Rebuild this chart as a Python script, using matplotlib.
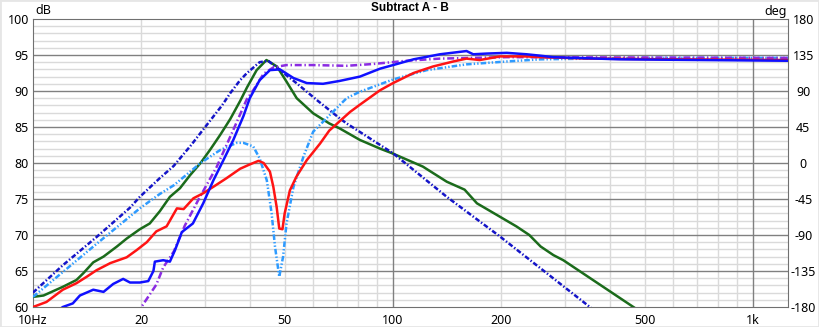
import numpy as np
import matplotlib
matplotlib.use('Agg')
import matplotlib.pyplot as plt
from matplotlib.patches import Rectangle

# ---------------------------------------------------------------------------
# Data (frequency in Hz, level in dB)
# ---------------------------------------------------------------------------
green_f = [10.0, 10.7, 12.1, 13.2, 13.8, 14.7, 15.7, 17.1, 18.2, 19.8, 21.1, 22.5,
           24.0, 25.6, 27.3, 29.2, 31.0, 33.1, 35.3, 37.6, 39.3, 41.8, 44.5, 47.6,
           50.6, 54.0, 60.0, 66.5, 71.1, 80.9, 92, 100, 121, 141, 158, 171, 194,
           220, 239, 257, 279, 297, 465, 600]
green_db = [61.4, 61.6, 62.8, 63.75, 64.7, 66.2, 67.0, 68.4, 69.5, 70.8, 71.6, 73.3,
            75.3, 76.5, 78.3, 80.0, 81.8, 83.9, 86.1, 88.6, 90.5, 92.9, 94.3, 93.4,
            91.3, 89.0, 86.9, 85.5, 84.8, 83.2, 82.0, 81.3, 79.5, 77.4, 76.3, 74.4, 72.8,
            71.2, 70.0, 68.4, 67.2, 66.5, 60.0, 56.4]

red_f = [10.0, 10.9, 12.1, 13.2, 14.1, 15.0, 16.4, 18.2, 19.4, 20.7, 22.0, 23.5,
         25.1, 26.2, 27.9, 29.7, 31.7, 34.5, 37.6, 40.0, 42.3, 43.7, 45.5, 46.5,
         47.5, 48.3, 49.3, 50.0, 51.7, 53.9, 57.6, 62.7, 66.5, 76.0, 80.9, 92,
         100, 114, 129, 147, 160, 174, 198, 235, 257, 350, 600, 1250]
red_db = [60.0, 60.7, 62.4, 63.3, 64.2, 65.1, 66.1, 66.9, 67.9, 69.0, 70.5, 71.2,
          73.7, 73.6, 75.1, 75.8, 76.7, 77.9, 79.2, 79.8, 80.3, 80.0, 78.8, 76.7,
          73.9, 70.9, 70.8, 73.0, 76.2, 78.1, 80.4, 82.7, 84.5, 87.1, 88.1, 90.1,
          91.1, 92.5, 93.4, 94.1, 94.5, 94.3, 94.8, 94.8, 94.7, 94.5, 94.4, 94.3]

blue_f = [10.0, 11.0, 12.1, 12.9, 13.5, 14.7, 15.7, 16.7, 17.8, 18.6, 19.8, 20.9,
          21.6, 21.8, 23.0, 24.0, 24.8, 25.9, 27.8, 29.7, 31.7, 33.8, 36.0, 38.4,
          40.0, 42.6, 45.5, 48.5, 52.9, 57.6, 63.9, 71.1, 80.9, 92, 100, 114, 135,
          160, 167, 182, 207, 235, 257, 278, 425, 1250]
blue_db = [57.5, 58.5, 60.0, 60.5, 61.6, 62.4, 62.1, 63.2, 63.9, 63.4, 63.4, 63.6,
           65.0, 66.3, 66.5, 66.3, 67.9, 70.4, 71.6, 74.4, 77.6, 80.4, 83.2, 86.5,
           89.0, 91.5, 92.9, 93.0, 91.8, 91.1, 91.0, 91.4, 92.0, 93.1, 93.6, 94.4, 95.1,
           95.55, 95.1, 95.2, 95.3, 95.1, 94.9, 94.7, 94.4, 94.2]

dblue_f = [10, 12.1, 15, 18.6, 19.8, 22.5, 24.6, 27.5, 30.4, 33.5, 35.3, 37.6, 39.3,
           42.6, 45, 48.5, 53.9, 61.4, 71.1, 74.3, 100, 141, 198, 352, 450]
dblue_db = [62.0, 65.8, 69.7, 73.8, 75.3, 77.9, 79.6, 82.5, 85.3, 88.0, 89.7, 91.5, 92.5,
            94.0, 94.2, 92.9, 91.1, 88.75, 86.2, 85.5, 81.35, 75.3, 69.8, 60.0, 56.0]

lblue_f = [10, 15, 19.8, 22.5, 24.6, 29.2, 33.1, 36.8, 38.4, 40.9, 42.6, 44.6, 46.0,
           47.0, 48.3, 49.5, 50.6, 52.9, 56.4, 60, 71.1, 74.3, 80.9, 100, 124, 160,
           207, 257, 500, 1250]
lblue_db = [61.4, 68.75, 73.7, 75.7, 76.9, 80.0, 81.8, 82.8, 82.8, 82.3, 80.65, 77.6, 73.0,
            68.4, 64.2, 67.0, 71.6, 76.7, 80.9, 84.35, 88.05, 89.0, 89.9, 91.6, 92.9, 93.7,
            94.1, 94.4, 94.6, 94.6]

purple_f = [19.5, 20, 22, 23, 24.6, 26.4, 28.8, 32.4, 36, 39.2, 40.9, 43.7, 46.6,
            50.6, 60, 74.3, 88, 109, 135, 207, 1250]
purple_db = [59.0, 60.0, 63.1, 65.5, 67.7, 71.3, 74.9, 79.5, 84.6, 88.8, 90.1, 92.4, 93.3,
             93.6, 93.6, 93.5, 93.75, 94.2, 94.5, 94.7, 94.6]

x_ticks = [10, 20, 50, 100, 200, 500, 1000]
x_labels = ['10Hz', '20', '50', '100', '200', '500', '1k']
x_minor = [20, 30, 40, 50, 60, 70, 80, 90, 200, 300, 400, 500, 600, 700, 800, 900]
x_major = [100, 1000]
db_ticks = [60, 65, 70, 75, 80, 85, 90, 95, 100]
deg_ticks = [-180, -135, -90, -45, 0, 45, 90, 135, 180]

# ---------------------------------------------------------------------------
plt.rcParams['font.family'] = ['Noto Sans', 'DejaVu Sans']
plt.rcParams['lines.scale_dashes'] = False

W, H = 819, 327
fig = plt.figure(figsize=(W / 100, H / 100), dpi=100, facecolor='white')
fig.patches.append(Rectangle((0, 0), 1, 1, transform=fig.transFigure,
                             fill=False, edgecolor='#E6E6E6', lw=2))
ax = fig.add_axes([33 / W, 1 - 307 / H, (788 - 33) / W, (307 - 19) / H])

ax.set_xscale('log')
ax.set_xlim(10, 1250)
ax.set_ylim(60, 100)

# grid
for f in x_minor:
    ax.axvline(f, color='#DADADA', lw=1, zorder=0)
for f in x_major:
    ax.axvline(f, color='#808080', lw=1, zorder=0.5)
for d in range(61, 100):
    if d % 5:
        ax.axhline(d, color='#DADADA', lw=1, zorder=0)
for d in db_ticks[1:-1]:
    ax.axhline(d, color='#808080', lw=1, zorder=0.5)

LW = 1.8
ax.plot(green_f, green_db, color='#1B6B1B', lw=LW, zorder=3)
ax.plot(dblue_f, dblue_db, color='#1414C8', lw=LW, ls=(0, (3.5, 1.5, 1, 1.5)), zorder=3)
ax.plot(lblue_f, lblue_db, color='#2E9BFF', lw=LW, ls=(0, (4, 1.5, 1, 1.5, 1, 1.5)), zorder=3)
ax.plot(purple_f, purple_db, color='#8A2BE2', lw=LW, ls=(0, (5, 2, 1, 2)), zorder=3)
ax.plot(red_f, red_db, color='#FF1414', lw=LW, zorder=4)
ax.plot(blue_f, blue_db, color='#1010FF', lw=LW, zorder=4)

ax.set_xticks(x_ticks)
ax.set_xticklabels(x_labels)
ax.set_xticks([], minor=True)
ax.set_yticks(db_ticks)
ax.set_yticklabels([str(t) for t in db_ticks])
ax.tick_params(axis='both', which='both', length=0, labelsize=9, colors='black')
ax.tick_params(axis='y', pad=3)
ax.tick_params(axis='x', pad=5)
for s in ax.spines.values():
    s.set_color('#707070')

ax2 = ax.twinx()
ax2.set_ylim(-180, 180)
ax2.set_yticks(deg_ticks)
ax2.set_yticklabels([str(t) for t in deg_ticks])
ax2.tick_params(axis='y', length=0, labelsize=9, pad=11)
for lab in ax2.get_yticklabels():
    lab.set_horizontalalignment('center')
for s in ax2.spines.values():
    s.set_visible(False)

fig.text(410 / W, 1 - 8 / H, 'Subtract A - B', ha='center', va='center',
         fontsize=8.5, fontweight='bold', family=['Liberation Sans', 'DejaVu Sans'])
fig.text(35 / W, 1 - 11 / H, 'dB', ha='left', va='center', fontsize=9)
fig.text(787 / W, 1 - 11 / H, 'deg', ha='right', va='center', fontsize=9)

fig.savefig('out.png', dpi=100, facecolor='white')
